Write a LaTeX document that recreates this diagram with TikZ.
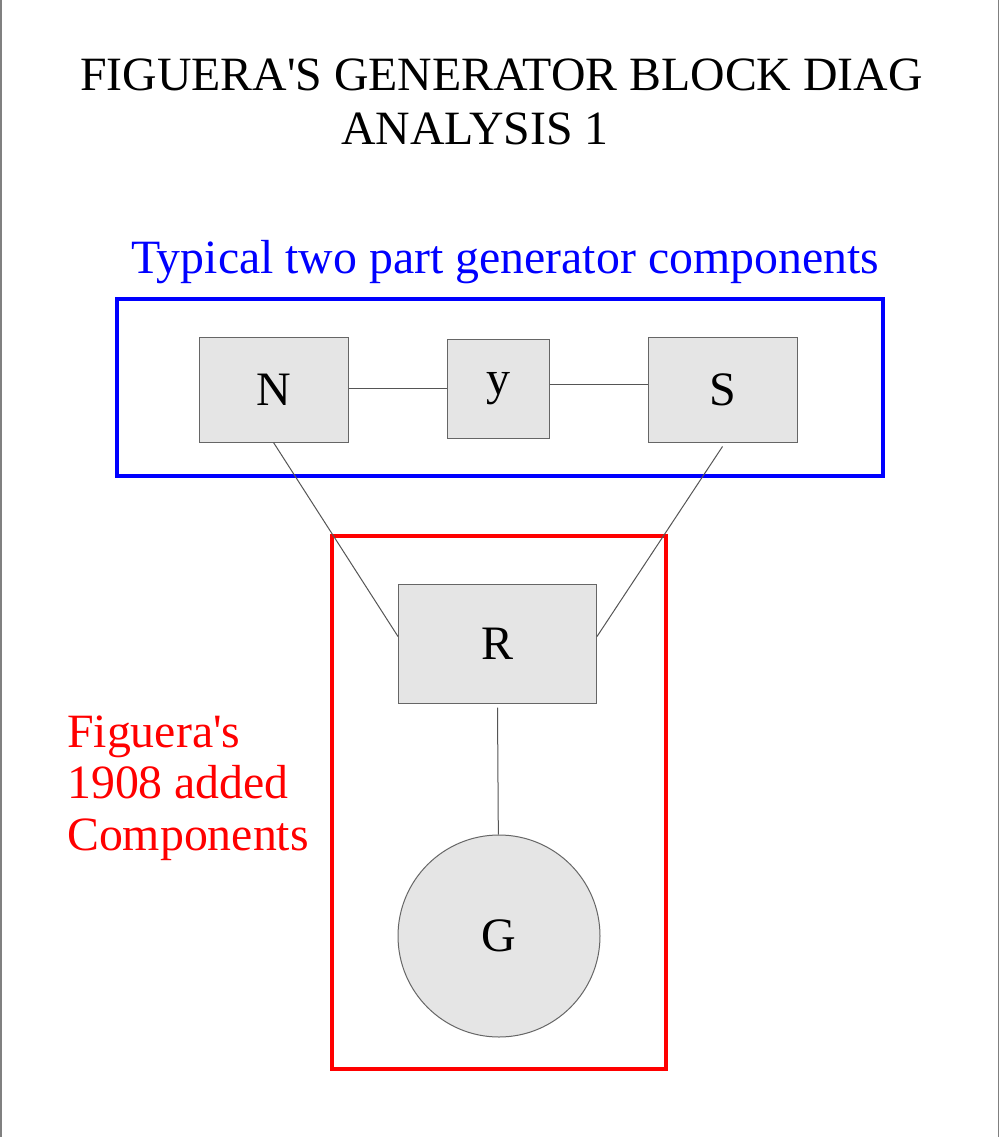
\documentclass[tikz,border=0pt]{standalone}
\usepackage{fontspec}
\setmainfont{Liberation Serif}
\definecolor{boxfill}{HTML}{E5E5E5}
\definecolor{boxline}{HTML}{666666}
\definecolor{connc}{HTML}{555555}
\definecolor{pureblue}{HTML}{0000FF}
\definecolor{purered}{HTML}{FF0000}
\begin{document}
\begin{tikzpicture}[x=1pt,y=-1pt,
  blk/.style={draw=boxline, fill=boxfill, line width=1pt, inner sep=0pt, font=\fontsize{48}{56}\selectfont},
  conn/.style={draw=connc, line width=1pt},
  txt/.style={inner sep=0pt, font=\fontsize{47.8}{56}\selectfont},
  frame/.style={line width=4pt}]
\useasboundingbox (0,0) rectangle (1000,1137);
\fill[white] (0,0) rectangle (1000,1137);
\draw[gray, line width=1.5pt] (0.75,0) -- (0.75,1137);
\draw[gray, line width=1.5pt] (998.5,0) -- (998.5,1137);
% titles
\node[txt, anchor=base] (t1) at (501.5,91) {FIGUERA\textquotesingle S GENERATOR BLOCK DIAG};
\node[txt, anchor=base west] (t2) at (341,145) {ANALYSIS 1};
\node[txt, anchor=base, text=pureblue] (lblue) at (505,273) {Typical two part generator components};
\node[txt, anchor=base west, text=purered] (lr1) at (67,747) {Figuera\textquotesingle s};
\node[txt, anchor=base west, text=purered] (lr2) at (67,798.5) {1908 added};
\node[txt, anchor=base west, text=purered] (lr3) at (67,850) {Components};
% frames
\draw[frame, draw=pureblue] (117,299) rectangle (883,475.5);
\draw[frame, draw=purered] (331.7,535.7) rectangle (665.7,1069);
% blocks
\node[blk, minimum width=149pt, minimum height=105pt] (N) at (273.5,389.5) {N};
\node[blk, minimum width=102pt, minimum height=99pt] (yb) at (498,388.5) {y};
\node[blk, minimum width=149pt, minimum height=105pt] (S) at (722.5,389.5) {S};
\node[blk, minimum width=198pt, minimum height=119pt] (R) at (497.5,643.5) {R};
\node[blk, circle, minimum size=202pt] (G) at (499,936) {G};
% connectors
\draw[conn] (N.east |- yb.west) -- (yb.west);
\draw[conn] ([yshift=4pt]yb.east) -- ([yshift=4pt]yb.east -| S.west);
\draw[conn] (N.south) -- ([yshift=7pt]R.west);
\draw[conn] ([yshift=-4pt]S.south) -- ([yshift=7pt]R.east);
\draw[conn] ([yshift=-4pt]R.south) -- (G);
\end{tikzpicture}
\end{document}
